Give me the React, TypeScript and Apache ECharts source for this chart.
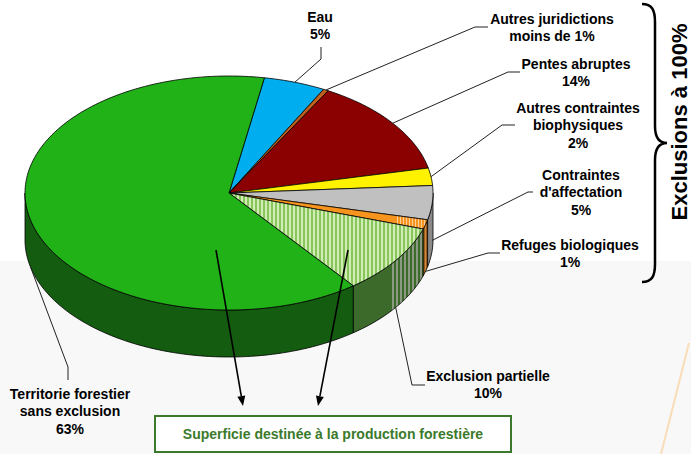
import React, { useEffect, useRef } from 'react';
import * as echarts from 'echarts';

// ---- data ----
const categories = [
  'Eau',
  'Autres juridictions',
  'Pentes abruptes',
  'Autres contraintes biophysiques',
  "Contraintes d'affectation",
  'Refuges biologiques',
  'Exclusion partielle',
  'Territorie forestier sans exclusion',
];
const shares = [4.9, 0.4, 13.5, 2.4, 4.7, 1.3, 9.6, 63.2];
const labelTexts = [
  'Eau\n5%',
  'Autres juridictions\nmoins de 1%',
  'Pentes abruptes\n14%',
  'Autres contraintes\nbiophysiques\n2%',
  "Contraintes\nd'affectation\n5%",
  'Refuges biologiques\n1%',
  'Exclusion partielle\n10%',
  'Territorie forestier\nsans exclusion\n63%',
];
const boxText = 'Superficie destinée à la production forestière';
const braceText = 'Exclusions à 100%';

// ---- layout / styles ----
const CX = 229, CY = 193, RX = 204, RY = 117, DEPTH = 47, START_ANGLE = 80;
const anchorDepth = [0, 0, 0, 0, 0.8, 1, 1, 1];
const labelPos = [
  [320, 8], [552, 10], [576, 55], [578, 99], [581, 166], [570, 236], [488, 367], [70, 385],
];
const leaderElbows = [
  [[321, 59], [321, 47]],
  [[475, 27], [488, 27]],
  [[508, 72], [520, 72]],
  [[502, 125], [515, 125]],
  [[528, 192], [533, 192]],
  [[488, 253], [500, 253]],
  [[412, 385], [425, 385]],
  [[68, 367], [68, 380]],
];
const topColors = ['#00adef', '#c0601c', '#8b0000', '#fff200', '#c0c0c0', '#f7941d', '#b5dd8c', '#21b217'];
const sideColors = ['#00709c', '#7a3a10', '#5a0000', '#a8a000', '#8a8a8a', '#9a5a1a', '#5a7d48', '#145c0f'];

const total = shares.reduce((a, b) => a + b, 0);
const angStart: number[] = [];
const angEnd: number[] = [];
{
  let acc = 0;
  shares.forEach((v) => {
    angStart.push(START_ANGLE - (acc / total) * 360);
    acc += v;
    angEnd.push(START_ANGLE - (acc / total) * 360);
  });
}

const rad = (d: number) => (d * Math.PI) / 180;
const pt = (a: number, dy = 0) => [CX + RX * Math.cos(rad(a)), CY - RY * Math.sin(rad(a)) + dy];
function arc(from: number, to: number, dy = 0) {
  const n = Math.max(2, Math.ceil(Math.abs(to - from) / 1.5));
  const out: number[][] = [];
  for (let k = 0; k <= n; k++) out.push(pt(from + ((to - from) * k) / n, dy));
  return out;
}

function stripes(x0: number, x1: number, period: number, c1: string, c2: string, frac: number) {
  const stops: any[] = [];
  const w = x1 - x0;
  for (let x = x0; x < x1; x += period) {
    const a = (x - x0) / w;
    const b = Math.min(1, (x + period * frac - x0) / w);
    const c = Math.min(1, (x + period - x0) / w);
    stops.push({ offset: a, color: c1 }, { offset: b, color: c1 }, { offset: b, color: c2 }, { offset: c, color: c2 });
  }
  return new echarts.graphic.LinearGradient(x0, 0, x1, 0, stops, true);
}

const topFill = (i: number): any => {
  if (i === 6) return stripes(225, 435, 4, '#d2ecb5', '#86c65a', 0.5);
  if (i === 5) return stripes(395, 435, 3, '#f7941d', '#fcd09a', 0.6);
  return topColors[i];
};
const sideFill = (i: number): any => {
  if (i === 6) return stripes(390, 432, 4, '#3b6a2a', '#8c9a84', 0.5);
  if (i === 5) return stripes(418, 432, 2, '#9a5a1a', '#d08a40', 0.5);
  return sideColors[i];
};

echarts.graphic.registerShape(
  'brace',
  echarts.graphic.extendPath(
    'M 642 4 C 652 4 655 10 655 22 L 655 126 C 655 138 659 143 667 143 C 659 143 655 148 655 160 L 655 264 C 655 276 652 282 642 282',
    {}
  )
);

const FONT = 'bold 14px "Liberation Sans", Arial, sans-serif';

function arrow(x1: number, y1: number, x2: number, y2: number) {
  const ang = Math.atan2(y2 - y1, x2 - x1);
  const L = 10, W = 4;
  const bx = x2 - L * Math.cos(ang), by = y2 - L * Math.sin(ang);
  const nx = -Math.sin(ang), ny = Math.cos(ang);
  return [
    { type: 'line', z: 50, shape: { x1, y1, x2: bx, y2: by }, style: { stroke: '#000', lineWidth: 1.6 } },
    {
      type: 'polygon', z: 50,
      shape: { points: [[x2, y2], [bx + nx * W, by + ny * W], [bx - nx * W, by - ny * W]] },
      style: { fill: '#000' },
    },
  ];
}

export default function App() {
  const ref = useRef<HTMLDivElement>(null);
  useEffect(() => {
    if (!ref.current) return;
    const chart = echarts.init(ref.current, undefined, { renderer: 'svg' });

    const leaders: any[] = [];
    const labels: any[] = [];
    shares.forEach((_, i) => {
      const mid = (angStart[i] + angEnd[i]) / 2;
      const a = pt(mid, DEPTH * anchorDepth[i]);
      leaders.push({
        type: 'polyline', z: 40,
        shape: { points: [a, ...leaderElbows[i]] },
        style: { stroke: '#222', lineWidth: 1, fill: 'none' },
      });
      labels.push({
        type: 'text', z: 40,
        x: labelPos[i][0], y: labelPos[i][1],
        style: {
          text: labelTexts[i], font: FONT, fill: '#000',
          align: 'center', verticalAlign: 'top', textAlign: 'center', textVerticalAlign: 'top',
          lineHeight: 17.5,
        },
      });
    });

    chart.setOption({
      animation: false,
      backgroundColor: '#ffffff',
      series: [
        {
          type: 'custom', coordinateSystem: 'none', z: 5, silent: true,
          data: shares.map((v, i) => ({ value: [i, v], name: categories[i] })),
          renderItem: (params: any) => {
            const i = params.dataIndex;
            const lo = Math.max(angEnd[i], -180);
            const hi = Math.min(angStart[i], 0);
            if (hi <= lo) return { type: 'group', children: [] };
            const pts = [...arc(lo, hi), ...arc(hi, lo, DEPTH)];
            return {
              type: 'polygon',
              shape: { points: pts },
              style: { fill: sideFill(i), stroke: '#000', lineWidth: 0.8 },
            };
          },
        },
        {
          type: 'custom', coordinateSystem: 'none', z: 6, silent: true,
          data: shares.map((v, i) => ({ value: [i, v], name: categories[i] })),
          renderItem: (params: any) => {
            const i = params.dataIndex;
            const pts = [[CX, CY], ...arc(angStart[i], angEnd[i])];
            return {
              type: 'polygon',
              shape: { points: pts },
              style: { fill: topFill(i), stroke: '#000', lineWidth: 0.8 },
            };
          },
        },
      ],
      graphic: {
        elements: [
          { type: 'rect', z: 0, shape: { x: 0, y: 261, width: 691, height: 193 }, style: { fill: '#f8f8f8' } },
          { type: 'line', z: 1, shape: { x1: 689, y1: 343, x2: 661, y2: 454 }, style: { stroke: '#f9dcb8', lineWidth: 2 } },
          ...leaders,
          ...labels,
          ...arrow(216, 250, 243, 406),
          ...arrow(348, 250, 318, 406),
          {
            type: 'rect', z: 40,
            shape: { x: 155, y: 416, width: 356, height: 36 },
            style: { fill: '#ffffff', stroke: '#3b7a2b', lineWidth: 2 },
          },
          {
            type: 'text', z: 41, x: 333, y: 434,
            style: {
              text: boxText, font: FONT, fill: '#3b7a2b',
              align: 'center', verticalAlign: 'middle', textAlign: 'center', textVerticalAlign: 'middle',
            },
          },
          { type: 'brace', z: 40, x: 0, y: 0, style: { fill: 'none', stroke: '#000', lineWidth: 2.5 } },
          {
            type: 'group', z: 40, x: 679.5, y: 122, rotation: Math.PI / 2,
            children: [
              {
                type: 'text', z: 40, x: 0, y: 0,
                style: {
                  text: braceText, font: 'bold 22px "Liberation Sans", Arial, sans-serif', fill: '#000',
                  x: 0, y: 0,
                  align: 'center', verticalAlign: 'middle', textAlign: 'center', textVerticalAlign: 'middle',
                },
              },
            ],
          },
        ],
      },
    });
    return () => chart.dispose();
  }, []);
  return <div ref={ref} style={{ position: 'fixed', left: 0, top: 0, width: 691, height: 454 }} />;
}
